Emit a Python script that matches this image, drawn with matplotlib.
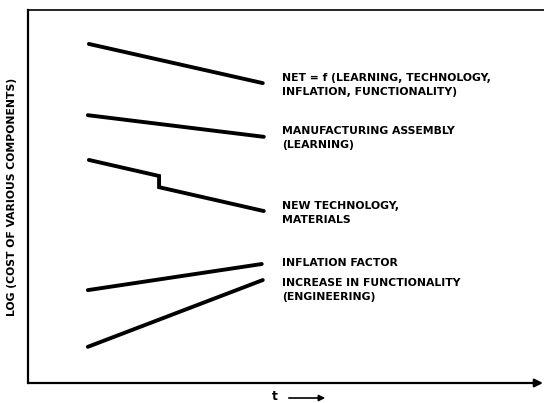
import matplotlib.pyplot as plt
from matplotlib.patches import FancyArrowPatch

# schematic curves: t (arbitrary units) vs log cost (arbitrary units)
net_t = [1.18, 4.55]
net_y = [9.09, 8.04]

mfg_t = [1.16, 4.57]
mfg_y = [7.18, 6.60]

tech_t = [1.18, 2.54, 2.54, 4.57]
tech_y = [5.98, 5.55, 5.25, 4.61]

infl_t = [1.16, 4.53]
infl_y = [2.49, 3.19]

func_t = [1.16, 4.55]
func_y = [0.97, 2.76]

labels = [
    ("NET = f (LEARNING, TECHNOLOGY,\nINFLATION, FUNCTIONALITY)", 7.98),
    ("MANUFACTURING ASSEMBLY\n(LEARNING)", 6.58),
    ("NEW TECHNOLOGY,\nMATERIALS", 4.57),
    ("INFLATION FACTOR", 3.22),
    ("INCREASE IN FUNCTIONALITY\n(ENGINEERING)", 2.48),
]
label_t = 4.92

W, H = 544, 403
fig = plt.figure(figsize=(W / 100, H / 100), dpi=100)
ax = fig.add_axes([28 / W, (H - 383) / H, (W - 28) / W, 373 / H])
ax.set_xlim(0, 10)
ax.set_ylim(0, 10)

for t, y in [(net_t, net_y), (mfg_t, mfg_y), (tech_t, tech_y),
             (infl_t, infl_y), (func_t, func_y)]:
    ax.plot(t, y, color='black', linewidth=2.8, solid_capstyle='round',
            solid_joinstyle='miter')

font = dict(family='DejaVu Sans', weight='bold', size=7.8)
for text, y in labels:
    ax.text(label_t, y, text, ha='left', va='center', linespacing=1.5, **font)

ax.set_xticks([])
ax.set_yticks([])
ax.spines['right'].set_visible(False)
ax.spines['bottom'].set_visible(False)
ax.spines['left'].set_linewidth(1.6)
ax.spines['top'].set_linewidth(1.2)

# time axis with arrow
ax.annotate('', xy=(0.998, 0), xytext=(0, 0), xycoords='axes fraction',
            arrowprops=dict(arrowstyle='-|>', color='black', lw=1.6,
                            mutation_scale=12, shrinkA=0, shrinkB=0),
            annotation_clip=False)

fig.text(275 / W, 1 - 397 / H, 't', ha='center', va='center',
         family='DejaVu Sans', weight='bold', size=9)
fig.add_artist(FancyArrowPatch(
    (286 / W, 1 - 398 / H), (328 / W, 1 - 398 / H), transform=fig.transFigure,
    arrowstyle='-|>', mutation_scale=9, color='black', lw=1.2))

fig.text(12 / W, 1 - 197 / H, 'LOG (COST OF VARIOUS COMPONENTS)', rotation=90,
         ha='center', va='center', **font)

fig.savefig('out.png', dpi=100)
